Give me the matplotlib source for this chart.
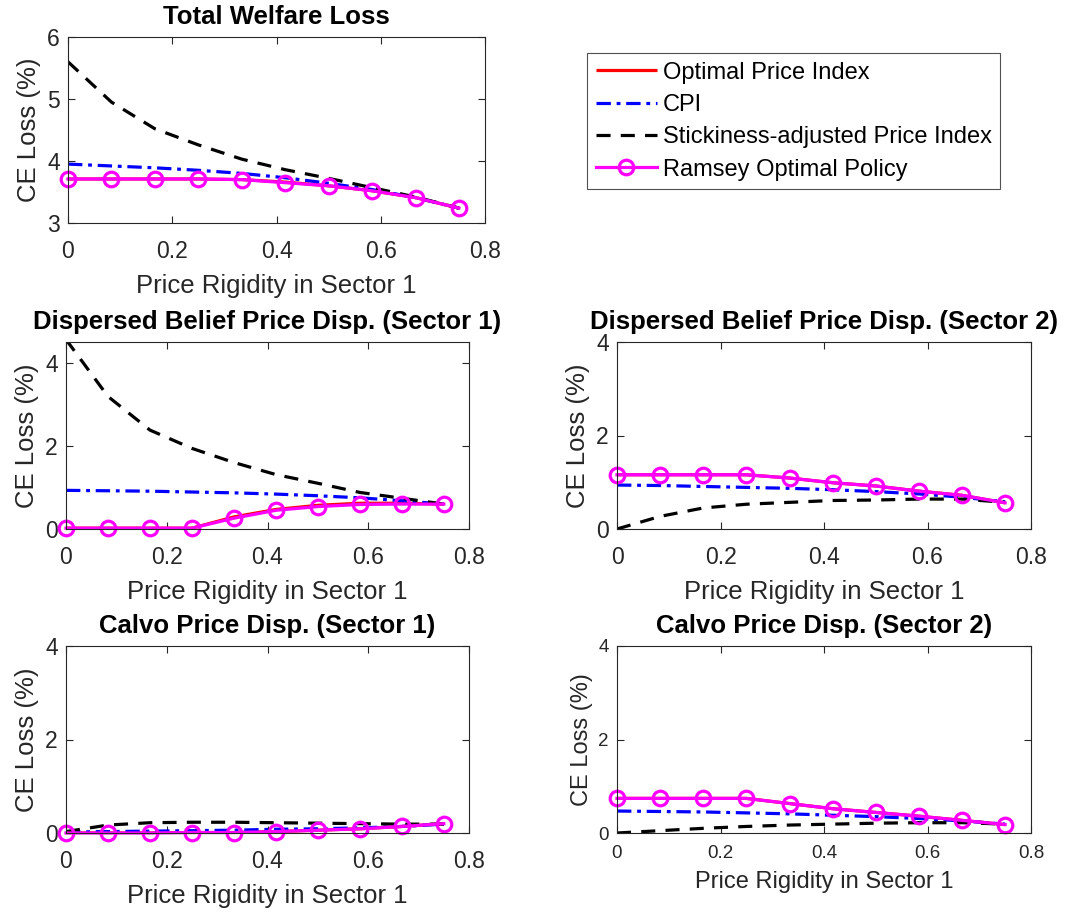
import matplotlib
matplotlib.use("Agg")
import matplotlib.pyplot as plt
import numpy as np

plt.rcParams['font.family'] = ['Liberation Sans', 'DejaVu Sans']

# x grid: price rigidity in sector 1
rigidity = [0.0, 1/12, 2/12, 3/12, 4/12, 5/12, 6/12, 7/12, 8/12, 9/12]

series_names = ["Optimal Price Index", "CPI", "Stickiness-adjusted Price Index", "Ramsey Optimal Policy"]

# Total Welfare Loss
total_opt = [3.71, 3.71, 3.71, 3.71, 3.70, 3.66, 3.60, 3.52, 3.41, 3.24]
total_cpi = [3.95, 3.92, 3.89, 3.85, 3.80, 3.73, 3.64, 3.54, 3.41, 3.24]
total_stk = [5.60, 4.95, 4.52, 4.26, 4.03, 3.86, 3.72, 3.57, 3.42, 3.24]
total_ram = [3.71, 3.71, 3.71, 3.71, 3.70, 3.65, 3.60, 3.52, 3.41, 3.24]

# Dispersed belief price dispersion, sector 1
db1_opt = [0.02, 0.02, 0.02, 0.02, 0.29, 0.47, 0.57, 0.62, 0.62, 0.60]
db1_cpi = [0.93, 0.92, 0.91, 0.89, 0.87, 0.84, 0.80, 0.75, 0.68, 0.60]
db1_stk = [4.56, 3.19, 2.38, 1.94, 1.60, 1.31, 1.10, 0.88, 0.74, 0.60]
db1_ram = [0.02, 0.02, 0.02, 0.02, 0.26, 0.45, 0.54, 0.59, 0.60, 0.60]

# Dispersed belief price dispersion, sector 2
db2_opt = [1.16, 1.16, 1.16, 1.16, 1.09, 0.99, 0.92, 0.81, 0.72, 0.56]
db2_cpi = [0.94, 0.93, 0.91, 0.89, 0.87, 0.84, 0.80, 0.75, 0.68, 0.58]
db2_stk = [0.00, 0.27, 0.45, 0.53, 0.57, 0.61, 0.62, 0.64, 0.64, 0.57]
db2_ram = [1.16, 1.16, 1.16, 1.16, 1.09, 0.99, 0.92, 0.81, 0.72, 0.56]

# Calvo price dispersion, sector 1
cv1_opt = [0.00, 0.00, 0.00, 0.01, 0.01, 0.03, 0.06, 0.09, 0.14, 0.20]
cv1_cpi = [0.02, 0.03, 0.04, 0.05, 0.06, 0.08, 0.09, 0.11, 0.14, 0.19]
cv1_stk = [0.03, 0.17, 0.22, 0.23, 0.23, 0.22, 0.21, 0.20, 0.19, 0.19]
cv1_ram = [0.00, 0.00, 0.00, 0.01, 0.01, 0.03, 0.06, 0.09, 0.14, 0.20]

# Calvo price dispersion, sector 2
cv2_opt = [0.74, 0.74, 0.74, 0.74, 0.63, 0.52, 0.44, 0.36, 0.27, 0.18]
cv2_cpi = [0.47, 0.46, 0.45, 0.43, 0.41, 0.38, 0.35, 0.31, 0.26, 0.19]
cv2_stk = [0.00, 0.05, 0.10, 0.14, 0.17, 0.19, 0.21, 0.22, 0.22, 0.19]
cv2_ram = [0.74, 0.74, 0.74, 0.74, 0.63, 0.52, 0.44, 0.36, 0.27, 0.18]

titles = ["Total Welfare Loss",
          "Dispersed Belief Price Disp. (Sector 1)",
          "Dispersed Belief Price Disp. (Sector 2)",
          "Calvo Price Disp. (Sector 1)",
          "Calvo Price Disp. (Sector 2)"]
x_ticks = [0, 0.2, 0.4, 0.6, 0.8]
x_ticklabels = ["0", "0.2", "0.4", "0.6", "0.8"]

W, H = 1068, 915
fig = plt.figure(figsize=(W/100, H/100), dpi=100)

def rect(l, t, r, b):
    return [l/W, 1 - b/H, (r-l)/W, (b-t)/H]

panels = [
    dict(rect=rect(68, 37, 485, 223), data=(total_opt, total_cpi, total_stk, total_ram),
         ylim=(3, 6), yticks=[3, 4, 5, 6], tfs=16.5, lfs=18.5, pad=12, lpad=8),
    dict(rect=rect(66, 342, 469, 529), data=(db1_opt, db1_cpi, db1_stk, db1_ram),
         ylim=(0, 4.5), yticks=[0, 2, 4], tfs=16.5, lfs=18.5, pad=12, lpad=8),
    dict(rect=rect(617, 342, 1031, 529), data=(db2_opt, db2_cpi, db2_stk, db2_ram),
         ylim=(0, 4), yticks=[0, 2, 4], tfs=16.5, lfs=18.5, pad=12, lpad=8),
    dict(rect=rect(66, 646, 469, 833), data=(cv1_opt, cv1_cpi, cv1_stk, cv1_ram),
         ylim=(0, 4), yticks=[0, 2, 4], tfs=16.5, lfs=18.5, pad=12, lpad=8),
    dict(rect=rect(617, 646, 1031, 833), data=(cv2_opt, cv2_cpi, cv2_stk, cv2_ram),
         ylim=(0, 4), yticks=[0, 2, 4], tfs=13.5, lfs=17, pad=9, lpad=6),
]

dark = '0.15'
lw = 2.3
handles = None
for p, title in zip(panels, titles):
    ax = fig.add_axes(p['rect'])
    opt, cpi, stk, ram = p['data']
    h1, = ax.plot(rigidity, opt, color='red', lw=lw, solid_capstyle='butt')
    h2, = ax.plot(rigidity, cpi, color='blue', lw=lw, dashes=(4.5, 1.8, 1.2, 1.8))
    h3, = ax.plot(rigidity, stk, color='black', lw=lw, dashes=(4.4, 3.2))
    h4, = ax.plot(rigidity, ram, color='#ff00ff', lw=lw, marker='o', markersize=10.5,
                  markerfacecolor='none', markeredgewidth=2.3, clip_on=False)
    if handles is None:
        handles = [h1, h2, h3, h4]
    ax.set_xlim(0, 0.8)
    ax.set_ylim(*p['ylim'])
    ax.set_xticks(x_ticks)
    ax.set_xticklabels(x_ticklabels)
    ax.set_yticks(p['yticks'])
    ax.tick_params(direction='in', top=True, right=True, length=5, width=0.8,
                   colors=dark, labelsize=p['tfs'])
    ax.tick_params(axis='x', pad=p['pad'])
    ax.tick_params(axis='y', pad=6)
    for s in ax.spines.values():
        s.set_color(dark)
        s.set_linewidth(0.8)
    ax.set_xlabel("Price Rigidity in Sector 1", fontsize=p['lfs'], color=dark, labelpad=p['lpad'])
    ax.set_ylabel("CE Loss (%)", fontsize=p['lfs'], color=dark, labelpad=4)
    ax.set_title(title, fontsize=18.5, fontweight='bold', pad=9)

leg = fig.legend(handles, series_names, loc='upper left',
                 bbox_to_anchor=(587/W, 1 - 53/H), fontsize=17,
                 frameon=True, fancybox=False, edgecolor=dark, handlelength=2.6,
                 handletextpad=0.25, labelspacing=0.44, borderpad=0.36, borderaxespad=0)
leg.get_frame().set_linewidth(0.8)

fig.savefig("out.png", dpi=100)
